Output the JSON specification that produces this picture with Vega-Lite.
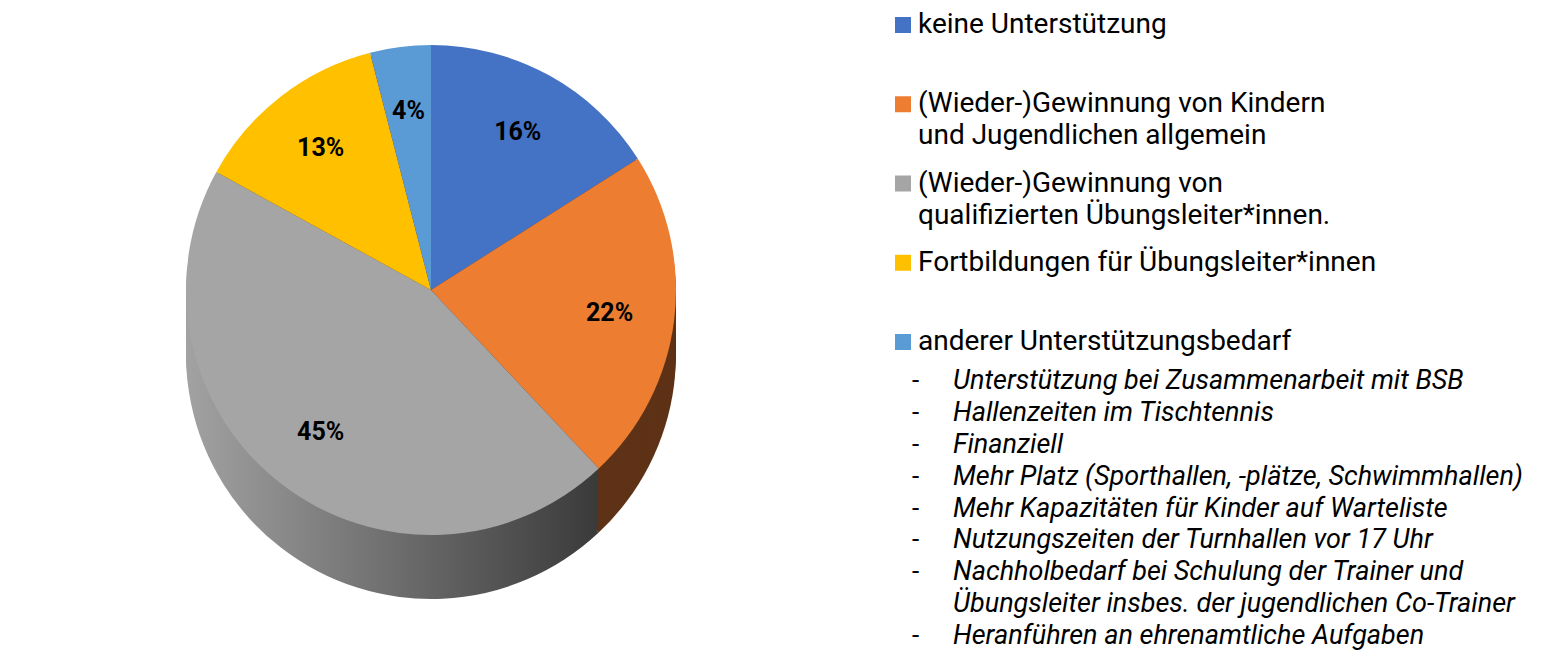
{
  "$schema": "https://vega.github.io/schema/vega-lite/v6.json",
  "padding": 0,
  "spacing": 0,
  "background": "white",
  "config": {"view": {"stroke": null}, "font": "Roboto"},
  "datasets": {
    "anteile": [
      {"nr": 1, "kategorie": "keine Unterstützung", "anteil": 0.16},
      {"nr": 2, "kategorie": "(Wieder-)Gewinnung von Kindern\nund Jugendlichen allgemein", "anteil": 0.22},
      {"nr": 3, "kategorie": "(Wieder-)Gewinnung von\nqualifizierten Übungsleiter*innen.", "anteil": 0.45},
      {"nr": 4, "kategorie": "Fortbildungen für Übungsleiter*innen", "anteil": 0.13},
      {"nr": 5, "kategorie": "anderer Unterstützungsbedarf", "anteil": 0.04}
    ],
    "bedarf": [
      {"strich": "-", "zeile": "Unterstützung bei Zusammenarbeit mit BSB"},
      {"strich": "-", "zeile": "Hallenzeiten im Tischtennis"},
      {"strich": "-", "zeile": "Finanziell"},
      {"strich": "-", "zeile": "Mehr Platz (Sporthallen, -plätze, Schwimmhallen)"},
      {"strich": "-", "zeile": "Mehr Kapazitäten für Kinder auf Warteliste"},
      {"strich": "-", "zeile": "Nutzungszeiten der Turnhallen vor 17 Uhr"},
      {"strich": "-", "zeile": "Nachholbedarf bei Schulung der Trainer und"},
      {"strich": "", "zeile": "Übungsleiter insbes. der jugendlichen Co-Trainer"},
      {"strich": "-", "zeile": "Heranführen an ehrenamtliche Aufgaben"}
    ]
  },
  "hconcat": [
    {
      "width": 862,
      "height": 580,
      "data": {"name": "anteile"},
      "encoding": {
        "theta": {"field": "anteil", "type": "quantitative", "stack": true},
        "order": {"field": "nr", "type": "quantitative"}
      },
      "layer": [
        {"mark": {"type": "arc", "radius": 245, "yOffset": 64}, "encoding": {"fill": {"condition": {"test": "datum.nr === 3", "value": {"gradient": "linear", "x1": 0, "y1": 0, "x2": 1, "y2": 0, "stops": [{"offset": 0, "color": "#a2a2a2"}, {"offset": 1, "color": "#3a3a3a"}]}}, "value": "#5e3216"}}},
        {"mark": {"type": "arc", "radius": 245, "yOffset": 60}, "encoding": {"fill": {"condition": {"test": "datum.nr === 3", "value": {"gradient": "linear", "x1": 0, "y1": 0, "x2": 1, "y2": 0, "stops": [{"offset": 0, "color": "#a2a2a2"}, {"offset": 1, "color": "#3a3a3a"}]}}, "value": "#5e3216"}}},
        {"mark": {"type": "arc", "radius": 245, "yOffset": 56}, "encoding": {"fill": {"condition": {"test": "datum.nr === 3", "value": {"gradient": "linear", "x1": 0, "y1": 0, "x2": 1, "y2": 0, "stops": [{"offset": 0, "color": "#a2a2a2"}, {"offset": 1, "color": "#3a3a3a"}]}}, "value": "#5e3216"}}},
        {"mark": {"type": "arc", "radius": 245, "yOffset": 52}, "encoding": {"fill": {"condition": {"test": "datum.nr === 3", "value": {"gradient": "linear", "x1": 0, "y1": 0, "x2": 1, "y2": 0, "stops": [{"offset": 0, "color": "#a2a2a2"}, {"offset": 1, "color": "#3a3a3a"}]}}, "value": "#5e3216"}}},
        {"mark": {"type": "arc", "radius": 245, "yOffset": 48}, "encoding": {"fill": {"condition": {"test": "datum.nr === 3", "value": {"gradient": "linear", "x1": 0, "y1": 0, "x2": 1, "y2": 0, "stops": [{"offset": 0, "color": "#a2a2a2"}, {"offset": 1, "color": "#3a3a3a"}]}}, "value": "#5e3216"}}},
        {"mark": {"type": "arc", "radius": 245, "yOffset": 44}, "encoding": {"fill": {"condition": {"test": "datum.nr === 3", "value": {"gradient": "linear", "x1": 0, "y1": 0, "x2": 1, "y2": 0, "stops": [{"offset": 0, "color": "#a2a2a2"}, {"offset": 1, "color": "#3a3a3a"}]}}, "value": "#5e3216"}}},
        {"mark": {"type": "arc", "radius": 245, "yOffset": 40}, "encoding": {"fill": {"condition": {"test": "datum.nr === 3", "value": {"gradient": "linear", "x1": 0, "y1": 0, "x2": 1, "y2": 0, "stops": [{"offset": 0, "color": "#a2a2a2"}, {"offset": 1, "color": "#3a3a3a"}]}}, "value": "#5e3216"}}},
        {"mark": {"type": "arc", "radius": 245, "yOffset": 36}, "encoding": {"fill": {"condition": {"test": "datum.nr === 3", "value": {"gradient": "linear", "x1": 0, "y1": 0, "x2": 1, "y2": 0, "stops": [{"offset": 0, "color": "#a2a2a2"}, {"offset": 1, "color": "#3a3a3a"}]}}, "value": "#5e3216"}}},
        {"mark": {"type": "arc", "radius": 245, "yOffset": 32}, "encoding": {"fill": {"condition": {"test": "datum.nr === 3", "value": {"gradient": "linear", "x1": 0, "y1": 0, "x2": 1, "y2": 0, "stops": [{"offset": 0, "color": "#a2a2a2"}, {"offset": 1, "color": "#3a3a3a"}]}}, "value": "#5e3216"}}},
        {"mark": {"type": "arc", "radius": 245, "yOffset": 28}, "encoding": {"fill": {"condition": {"test": "datum.nr === 3", "value": {"gradient": "linear", "x1": 0, "y1": 0, "x2": 1, "y2": 0, "stops": [{"offset": 0, "color": "#a2a2a2"}, {"offset": 1, "color": "#3a3a3a"}]}}, "value": "#5e3216"}}},
        {"mark": {"type": "arc", "radius": 245, "yOffset": 24}, "encoding": {"fill": {"condition": {"test": "datum.nr === 3", "value": {"gradient": "linear", "x1": 0, "y1": 0, "x2": 1, "y2": 0, "stops": [{"offset": 0, "color": "#a2a2a2"}, {"offset": 1, "color": "#3a3a3a"}]}}, "value": "#5e3216"}}},
        {"mark": {"type": "arc", "radius": 245, "yOffset": 20}, "encoding": {"fill": {"condition": {"test": "datum.nr === 3", "value": {"gradient": "linear", "x1": 0, "y1": 0, "x2": 1, "y2": 0, "stops": [{"offset": 0, "color": "#a2a2a2"}, {"offset": 1, "color": "#3a3a3a"}]}}, "value": "#5e3216"}}},
        {"mark": {"type": "arc", "radius": 245, "yOffset": 16}, "encoding": {"fill": {"condition": {"test": "datum.nr === 3", "value": {"gradient": "linear", "x1": 0, "y1": 0, "x2": 1, "y2": 0, "stops": [{"offset": 0, "color": "#a2a2a2"}, {"offset": 1, "color": "#3a3a3a"}]}}, "value": "#5e3216"}}},
        {"mark": {"type": "arc", "radius": 245, "yOffset": 12}, "encoding": {"fill": {"condition": {"test": "datum.nr === 3", "value": {"gradient": "linear", "x1": 0, "y1": 0, "x2": 1, "y2": 0, "stops": [{"offset": 0, "color": "#a2a2a2"}, {"offset": 1, "color": "#3a3a3a"}]}}, "value": "#5e3216"}}},
        {"mark": {"type": "arc", "radius": 245, "yOffset": 8}, "encoding": {"fill": {"condition": {"test": "datum.nr === 3", "value": {"gradient": "linear", "x1": 0, "y1": 0, "x2": 1, "y2": 0, "stops": [{"offset": 0, "color": "#a2a2a2"}, {"offset": 1, "color": "#3a3a3a"}]}}, "value": "#5e3216"}}},
        {"mark": {"type": "arc", "radius": 245, "yOffset": 4}, "encoding": {"fill": {"condition": {"test": "datum.nr === 3", "value": {"gradient": "linear", "x1": 0, "y1": 0, "x2": 1, "y2": 0, "stops": [{"offset": 0, "color": "#a2a2a2"}, {"offset": 1, "color": "#3a3a3a"}]}}, "value": "#5e3216"}}},
        {
          "mark": {"type": "arc", "radius": 245},
          "encoding": {
            "color": {
              "field": "kategorie",
              "type": "nominal",
              "scale": {
                "domain": [
                  "keine Unterstützung",
                  "(Wieder-)Gewinnung von Kindern\nund Jugendlichen allgemein",
                  "(Wieder-)Gewinnung von\nqualifizierten Übungsleiter*innen.",
                  "Fortbildungen für Übungsleiter*innen",
                  "anderer Unterstützungsbedarf"
                ],
                "range": ["#4472C4", "#ED7D31", "#A5A5A5", "#FFC000", "#5B9BD5"]
              },
              "legend": null
            }
          }
        },
        {
          "mark": {"type": "text", "radius": 180, "font": "Roboto", "fontSize": 25, "fontWeight": "bold", "color": "#000000"},
          "encoding": {"text": {"field": "anteil", "type": "quantitative", "format": ".0%"}}
        }
      ]
    },
    {
      "width": 82,
      "height": 651,
      "resolve": {"scale": {"y": "independent"}},
      "layer": [
        {
          "data": {"name": "anteile"},
          "mark": {"type": "point", "shape": "square", "filled": true, "size": 256, "opacity": 1},
          "encoding": {
            "y": {"field": "kategorie", "type": "ordinal", "sort": null, "axis": null, "scale": {"range": [25, 342], "padding": 0}},
            "color": {"field": "kategorie", "type": "nominal", "legend": null}
          }
        },
        {
          "data": {"name": "anteile"},
          "mark": {"type": "text", "align": "left", "baseline": "top", "dx": 15, "dy": -14, "font": "Roboto", "fontSize": 28, "lineBreak": "\n", "lineHeight": 32, "color": "#000000"},
          "encoding": {
            "y": {"field": "kategorie", "type": "ordinal", "sort": null, "axis": null, "scale": {"range": [25, 342], "padding": 0}},
            "text": {"field": "kategorie", "type": "nominal"}
          }
        },
        {
          "data": {"name": "bedarf"},
          "mark": {"type": "text", "align": "left", "baseline": "middle", "dx": 9, "font": "Roboto", "fontSize": 26, "color": "#000000"},
          "encoding": {
            "y": {"field": "zeile", "type": "ordinal", "sort": null, "axis": null, "scale": {"range": [381, 636], "padding": 0}},
            "text": {"field": "strich", "type": "nominal"}
          }
        },
        {
          "data": {"name": "bedarf"},
          "mark": {"type": "text", "align": "left", "baseline": "middle", "dx": 50, "font": "Roboto", "fontSize": 27, "fontStyle": "italic", "color": "#000000"},
          "encoding": {
            "y": {"field": "zeile", "type": "ordinal", "sort": null, "axis": null, "scale": {"range": [381, 636], "padding": 0}},
            "text": {"field": "zeile", "type": "nominal"}
          }
        }
      ]
    }
  ]
}
